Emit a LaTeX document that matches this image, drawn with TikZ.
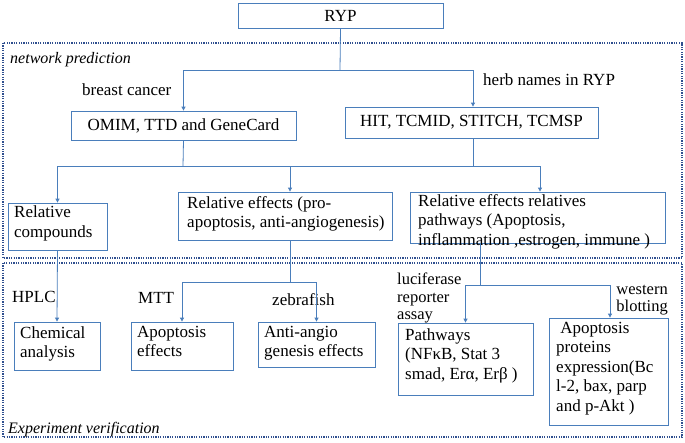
\documentclass[tikz,border=0pt]{standalone}
\usepackage{fontspec}
\setmainfont{Liberation Serif}
\usetikzlibrary{arrows.meta}
\definecolor{ln}{HTML}{4A7EBB}
\definecolor{dt}{HTML}{2F4F8F}
\newcommand{\fs}{\fontsize{17}{19.5}\selectfont}
\begin{document}
\begin{tikzpicture}[x=1pt,y=-1pt,
  box/.style={draw=ln,line width=0.8pt,inner sep=0pt},
  t/.style={font=\fs,inner sep=0pt},
  con/.style={ln,line width=0.8pt},
  arr/.style={con,-{Triangle[length=4pt,width=4pt]}},
  reg/.style={dt,line width=1.3pt,dash pattern=on 1.2pt off 1.2pt}]
\useasboundingbox (0,0) rectangle (685,442);
\draw[reg] (3,43) rectangle (682,258);
\draw[reg] (3,263) rectangle (682,437);
\node[inner sep=0pt,anchor=west,font=\itshape\fontsize{16}{18}\selectfont] (np) at (10,60) {network prediction};
\node[inner sep=0pt,anchor=west,font=\itshape\fontsize{16}{18}\selectfont] (ev) at (8,430) {Experiment verification};
% boxes
\node[box,minimum width=205,minimum height=25] (ryp) at (340.5,15.5) {};
\node[t] at (ryp) {RYP};
\node[box,minimum width=225,minimum height=29] (omim) at (183.5,125.5) {};
\node[t] at (omim) {OMIM, TTD and GeneCard};
\node[box,minimum width=253,minimum height=31] (hit) at (471.5,122.5) {};
\node[t] at (hit) {HIT, TCMID, STITCH, TCMSP};
\node[box,minimum width=99,minimum height=47] (rc) at (57.5,226.5) {};
\node[t,anchor=north west,align=left] at (14,206) {Relative\\compounds};
\node[box,minimum width=214,minimum height=48] (re) at (285,216) {};
\node[t,anchor=north west,align=left] at (187,196) {Relative effects (pro-\\apoptosis, anti-angiogenesis)};
\node[box,minimum width=255,minimum height=51] (rp) at (537.5,217.5) {};
\node[t,anchor=north west,align=left] at (418,194) {Relative effects relatives\\pathways (Apoptosis,\\inflammation ,estrogen, immune )};
\node[box,minimum width=86,minimum height=48] (ca) at (57,346) {};
\node[t,anchor=north west,align=left] at (20,326) {Chemical\\analysis};
\node[box,minimum width=102,minimum height=48] (ae) at (182,346) {};
\node[t,anchor=north west,align=left] at (137,326) {Apoptosis\\effects};
\node[box,minimum width=117,minimum height=45] (aa) at (316.5,344.5) {};
\node[t,anchor=north west,align=left] at (264,326) {Anti-angio\\genesis effects};
\node[box,minimum width=135,minimum height=72] (pw) at (465.5,359) {};
\node[t,anchor=north west,align=left] at (405,328) {Pathways\\(NFκB, Stat 3\\smad, Erα, Erβ )};
\node[box,minimum width=119,minimum height=107] (ap) at (608.5,371.5) {};
\node[t,anchor=north west,align=left] at (556,322) {\ Apoptosis\\proteins\\expression(Bc\\l-2, bax, parp\\and p-Akt )};
% labels
\node[t,anchor=west] (bc) at (82,90) {breast cancer};
\node[t,anchor=west] (hn) at (483,80) {herb names in RYP};
\node[t,anchor=west] (hp) at (12,297) {HPLC};
\node[t,anchor=west] (mt) at (138,298) {MTT};
\node[t,anchor=west] (zf) at (272,300) {zebrafish};
\node[t,anchor=north west,align=left,font=\fontsize{16.5}{17.5}\selectfont] (lu) at (397,273) {luciferase\\reporter\\assay};
\node[t,anchor=north east,align=right,font=\fontsize{16.5}{17.5}\selectfont] (wb) at (668,285) {western\\blotting};
% connectors
\coordinate (j1) at (340,70);
\draw[con] (ryp.south) -- (j1);
\draw[arr] (j1) -| (omim.north);
\draw[arr] (j1) -| (hit.north -| 473,0);
\coordinate (j2) at (183,166);
\coordinate (j3) at (473,166);
\draw[con] (omim.south) -- (j2);
\draw[con] (hit.south -| j3) -- (j3);
\draw[arr] (j2) -| (rc.north);
\draw[arr] (j2) -| (re.north -| 290,0);
\draw[arr] (j3) -| (rp.north -| 540,0);
\draw[con] (j2) -- (j3);
\draw[arr] (rc.south) -- (ca.north);
\coordinate (j4) at (290,282);
\draw[con] (re.south -| j4) -- (j4);
\draw[arr] (j4) -| (ae.north);
\draw[arr] (j4) -| (aa.north);
\coordinate (j5) at (480,285);
\draw[con] (rp.south -| j5) -- (j5);
\draw[arr] (j5) -| (pw.north);
\draw[arr] (j5) -| (ap.north -| 610,0);
\end{tikzpicture}
\end{document}
